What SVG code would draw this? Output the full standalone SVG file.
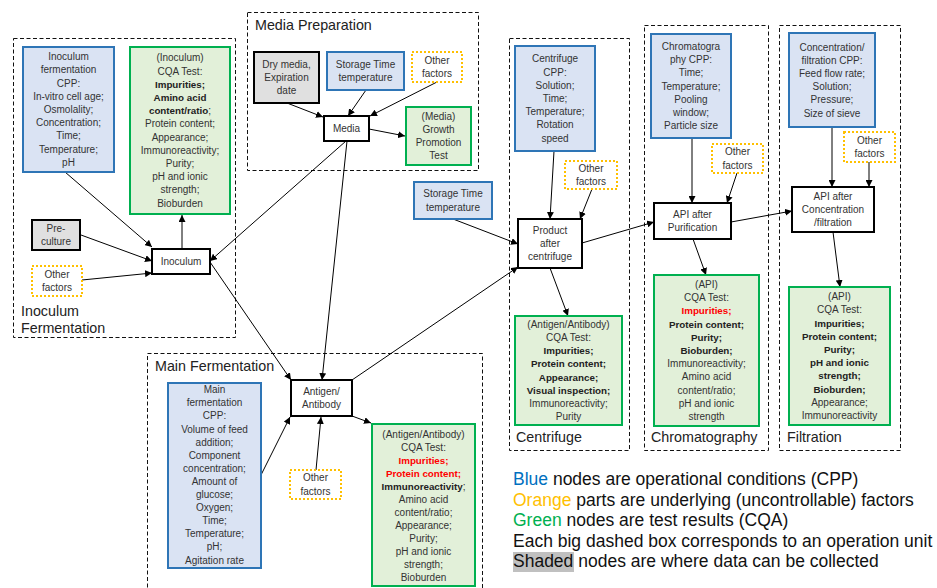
<svg xmlns="http://www.w3.org/2000/svg" width="937" height="588" viewBox="0 0 937 588">
<defs>
<marker id="arr" viewBox="0 0 10 10" refX="10" refY="5" markerWidth="7" markerHeight="7" markerUnits="userSpaceOnUse" orient="auto">
<path d="M0,0 L10,5 L0,10 z" fill="#000"/>
</marker>
<style>
text{font-family:"Liberation Sans",Arial,sans-serif;fill:#333;}
.n{font-size:10px;text-anchor:middle;}
.b{font-weight:bold;fill:#222;font-size:9.8px;}
.r{font-weight:bold;fill:#ff0000;font-size:9.8px;}
.sec{font-size:14.3px;fill:#222;}
.leg{font-size:17.5px;fill:#111;}
.unit{fill:none;stroke:#111;stroke-width:1;stroke-dasharray:4 2.5;}
.cpp{fill:#dae3f3;stroke:#2e75b6;stroke-width:2;}
.cqa{fill:#e2f0d9;stroke:#00b050;stroke-width:2;}
.oth{fill:#fff;stroke:#ffc000;stroke-width:2;stroke-dasharray:2 2;}
.gry{fill:#e0e0e0;stroke:#000;stroke-width:2;}
.pn{fill:#fff;stroke:#000;stroke-width:2;}
.e{fill:none;stroke:#000;stroke-width:1;marker-end:url(#arr);}
</style>
</defs>
<rect width="937" height="588" fill="#fff"/>

<g id="units">
<rect class="unit" x="13.5" y="38.5" width="222" height="299"/>
<text class="sec" x="21" y="316">Inoculum</text>
<text class="sec" x="21" y="333">Fermentation</text>
<rect class="unit" x="247.5" y="12.5" width="231" height="158"/>
<text class="sec" x="255" y="30">Media Preparation</text>
<rect class="unit" x="147.5" y="353.5" width="335" height="250"/>
<text class="sec" x="155" y="371">Main Fermentation</text>
<rect class="unit" x="509.5" y="38.5" width="120" height="412"/>
<text class="sec" x="516" y="442">Centrifuge</text>
<rect class="unit" x="644.5" y="25.5" width="124" height="425"/>
<text class="sec" x="651" y="442">Chromatography</text>
<rect class="unit" x="779.5" y="25.5" width="121" height="425"/>
<text class="sec" x="787" y="442">Filtration</text>
</g>

<g id="edges">
<line class="e" x1="65" y1="172" x2="152" y2="247"/>
<line class="e" x1="81" y1="235" x2="152" y2="261"/>
<line class="e" x1="82" y1="280" x2="152" y2="273"/>
<line class="e" x1="182" y1="249" x2="182" y2="215"/>
<line class="e" x1="346" y1="141" x2="210" y2="261"/>
<line class="e" x1="210" y1="262" x2="291" y2="380"/>
<line class="e" x1="347" y1="141" x2="322" y2="380"/>
<line class="e" x1="352" y1="380" x2="518" y2="267"/>
<line class="e" x1="453" y1="219" x2="518" y2="244"/>
<line class="e" x1="287" y1="103" x2="323" y2="117"/>
<line class="e" x1="366" y1="90" x2="348" y2="116"/>
<line class="e" x1="437" y1="82" x2="370" y2="116"/>
<line class="e" x1="369" y1="129" x2="405" y2="136"/>
<line class="e" x1="261" y1="475" x2="290" y2="417"/>
<line class="e" x1="316" y1="470" x2="321" y2="417"/>
<line class="e" x1="352" y1="416" x2="371" y2="423"/>
<line class="e" x1="554" y1="151" x2="550" y2="219"/>
<line class="e" x1="592" y1="189" x2="580" y2="219"/>
<line class="e" x1="550" y1="268" x2="568" y2="316"/>
<line class="e" x1="582" y1="243" x2="654" y2="222"/>
<line class="e" x1="692" y1="138" x2="692" y2="203"/>
<line class="e" x1="737" y1="173" x2="727" y2="203"/>
<line class="e" x1="693" y1="239" x2="706" y2="275"/>
<line class="e" x1="731" y1="222" x2="792" y2="211"/>
<line class="e" x1="832" y1="127" x2="832" y2="187"/>
<line class="e" x1="869" y1="162" x2="869" y2="187"/>
<line class="e" x1="833" y1="232" x2="840" y2="287"/>
</g>

<g id="inoc-cpp">
<rect class="cpp" x="23" y="47" width="91" height="125"/>
<text class="n" y="60.2"><tspan x="68.5">Inoculum</tspan><tspan x="68.5" dy="13.2">fermentation</tspan><tspan x="68.5" dy="13.2">CPP:</tspan><tspan x="68.5" dy="13.2">In-vitro cell age;</tspan><tspan x="68.5" dy="13.2">Osmolality;</tspan><tspan x="68.5" dy="13.2">Concentration;</tspan><tspan x="68.5" dy="13.2">Time;</tspan><tspan x="68.5" dy="13.2">Temperature;</tspan><tspan x="68.5" dy="13.2">pH</tspan></text>
</g>
<g id="inoc-cqa">
<rect class="cqa" x="130" y="47" width="100" height="167"/>
<text class="n" y="61.4"><tspan x="180">(Inoculum)</tspan><tspan x="180" dy="13.2">CQA Test:</tspan><tspan x="180" dy="13.2" class="b">Impurities;</tspan><tspan x="180" dy="13.2" class="b">Amino acid</tspan><tspan x="180" dy="13.2"><tspan class="b">content/ratio</tspan>;</tspan><tspan x="180" dy="13.2">Protein content;</tspan><tspan x="180" dy="13.2">Appearance;</tspan><tspan x="180" dy="13.2">Immunoreactivity;</tspan><tspan x="180" dy="13.2">Purity;</tspan><tspan x="180" dy="13.2">pH and ionic</tspan><tspan x="180" dy="13.2">strength;</tspan><tspan x="180" dy="13.2">Bioburden</tspan></text>
</g>
<g id="preculture">
<rect class="gry" x="32" y="220" width="48" height="30"/>
<text class="n" y="231.9"><tspan x="56">Pre-</tspan><tspan x="56" dy="13.2">culture</tspan></text>
</g>
<g id="inoc-other">
<rect class="oth" x="32" y="266" width="50" height="30"/>
<text class="n" y="277.9"><tspan x="57">Other</tspan><tspan x="57" dy="13.2">factors</tspan></text>
</g>
<g id="inoculum">
<rect class="pn" x="152" y="249" width="58" height="25"/>
<text class="n" x="181" y="265">Inoculum</text>
</g>

<g id="drymedia">
<rect class="gry" x="254" y="52" width="65" height="51"/>
<text class="n" y="67.8"><tspan x="286.5">Dry media,</tspan><tspan x="286.5" dy="13.2">Expiration</tspan><tspan x="286.5" dy="13.2">date</tspan></text>
</g>
<g id="media-storage">
<rect class="cpp" x="327" y="52" width="77" height="38"/>
<text class="n" y="67.9"><tspan x="365.5">Storage Time</tspan><tspan x="365.5" dy="13.2">temperature</tspan></text>
</g>
<g id="media-other">
<rect class="oth" x="412" y="52" width="50" height="30"/>
<text class="n" y="63.9"><tspan x="437">Other</tspan><tspan x="437" dy="13.2">factors</tspan></text>
</g>
<g id="media">
<rect class="pn" x="324" y="116" width="45" height="25"/>
<text class="n" x="346.5" y="132">Media</text>
</g>
<g id="media-cqa">
<rect class="cqa" x="406" y="107" width="65" height="58"/>
<text class="n" y="119.7"><tspan x="438.5">(Media)</tspan><tspan x="438.5" dy="13.2">Growth</tspan><tspan x="438.5" dy="13.2">Promotion</tspan><tspan x="438.5" dy="13.2">Test</tspan></text>
</g>

<g id="storage2">
<rect class="cpp" x="414" y="182" width="78" height="37"/>
<text class="n" y="197.4"><tspan x="453">Storage Time</tspan><tspan x="453" dy="13.2">temperature</tspan></text>
</g>

<g id="main-cpp">
<rect class="cpp" x="168" y="383" width="93" height="185"/>
<text class="n" y="393.2"><tspan x="214.5">Main</tspan><tspan x="214.5" dy="13.1">fermentation</tspan><tspan x="214.5" dy="13.1">CPP:</tspan><tspan x="214.5" dy="13.1">Volume of feed</tspan><tspan x="214.5" dy="13.1">addition;</tspan><tspan x="214.5" dy="13.1">Component</tspan><tspan x="214.5" dy="13.1">concentration;</tspan><tspan x="214.5" dy="13.1">Amount of</tspan><tspan x="214.5" dy="13.1">glucose;</tspan><tspan x="214.5" dy="13.1">Oxygen;</tspan><tspan x="214.5" dy="13.1">Time;</tspan><tspan x="214.5" dy="13.1">Temperature;</tspan><tspan x="214.5" dy="13.1">pH;</tspan><tspan x="214.5" dy="13.1">Agitation rate</tspan></text>
</g>
<g id="antigen">
<rect class="pn" x="291" y="380" width="61" height="36"/>
<text class="n" y="394.9"><tspan x="321.5">Antigen/</tspan><tspan x="321.5" dy="13.2">Antibody</tspan></text>
</g>
<g id="main-other">
<rect class="oth" x="290" y="470" width="51" height="29"/>
<text class="n" y="481.4"><tspan x="315.5">Other</tspan><tspan x="315.5" dy="13.2">factors</tspan></text>
</g>
<g id="main-cqa">
<rect class="cqa" x="372" y="424" width="103" height="162"/>
<text class="n" y="437.5"><tspan x="423.5">(Antigen/Antibody)</tspan><tspan x="423.5" dy="13.05">CQA Test:</tspan><tspan x="423.5" dy="13.05" class="r">Impurities;</tspan><tspan x="423.5" dy="13.05" class="r">Protein content;</tspan><tspan x="423.5" dy="13.05"><tspan class="b">Immunoreactivity</tspan>;</tspan><tspan x="423.5" dy="13.05">Amino acid</tspan><tspan x="423.5" dy="13.05">content/ratio;</tspan><tspan x="423.5" dy="13.05">Appearance;</tspan><tspan x="423.5" dy="13.05">Purity;</tspan><tspan x="423.5" dy="13.05">pH and ionic</tspan><tspan x="423.5" dy="13.05">strength;</tspan><tspan x="423.5" dy="13.05">Bioburden</tspan></text>
</g>

<g id="cent-cpp">
<rect class="cpp" x="515" y="46" width="80" height="105"/>
<text class="n" y="62.4"><tspan x="555">Centrifuge</tspan><tspan x="555" dy="13.2">CPP:</tspan><tspan x="555" dy="13.2">Solution;</tspan><tspan x="555" dy="13.2">Time;</tspan><tspan x="555" dy="13.2">Temperature;</tspan><tspan x="555" dy="13.2">Rotation</tspan><tspan x="555" dy="13.2">speed</tspan></text>
</g>
<g id="cent-other">
<rect class="oth" x="565" y="161" width="52" height="28"/>
<text class="n" y="171.9"><tspan x="591">Other</tspan><tspan x="591" dy="13.2">factors</tspan></text>
</g>
<g id="product">
<rect class="pn" x="518" y="219" width="64" height="49"/>
<text class="n" y="233.8"><tspan x="550">Product</tspan><tspan x="550" dy="13.2">after</tspan><tspan x="550" dy="13.2">centrifuge</tspan></text>
</g>
<g id="cent-cqa">
<rect class="cqa" x="515" y="316" width="107" height="109"/>
<text class="n" y="327.8"><tspan x="568.5">(Antigen/Antibody)</tspan><tspan x="568.5" dy="13.2">CQA Test:</tspan><tspan x="568.5" dy="13.2" class="b">Impurities;</tspan><tspan x="568.5" dy="13.2" class="b">Protein content;</tspan><tspan x="568.5" dy="13.2" class="b">Appearance;</tspan><tspan x="568.5" dy="13.2" class="b">Visual inspection;</tspan><tspan x="568.5" dy="13.2">Immunoreactivity;</tspan><tspan x="568.5" dy="13.2">Purity</tspan></text>
</g>

<g id="chrom-cpp">
<rect class="cpp" x="651" y="34" width="80" height="104"/>
<text class="n" y="49.9"><tspan x="691">Chromatogra</tspan><tspan x="691" dy="13.2">phy CPP:</tspan><tspan x="691" dy="13.2">Time;</tspan><tspan x="691" dy="13.2">Temperature;</tspan><tspan x="691" dy="13.2">Pooling</tspan><tspan x="691" dy="13.2">window;</tspan><tspan x="691" dy="13.2">Particle size</tspan></text>
</g>
<g id="chrom-other">
<rect class="oth" x="712" y="144" width="51" height="29"/>
<text class="n" y="155.4"><tspan x="737.5">Other</tspan><tspan x="737.5" dy="13.2">factors</tspan></text>
</g>
<g id="api-purif">
<rect class="pn" x="654" y="203" width="77" height="36"/>
<text class="n" y="217.9"><tspan x="692.5">API after</tspan><tspan x="692.5" dy="13.2">Purification</tspan></text>
</g>
<g id="chrom-cqa">
<rect class="cqa" x="654" y="275" width="105" height="151"/>
<text class="n" y="288"><tspan x="706.5">(API)</tspan><tspan x="706.5" dy="13.2">CQA Test:</tspan><tspan x="706.5" dy="13.2" class="r">Impurities;</tspan><tspan x="706.5" dy="13.2" class="b">Protein content;</tspan><tspan x="706.5" dy="13.2" class="b">Purity;</tspan><tspan x="706.5" dy="13.2" class="b">Bioburden;</tspan><tspan x="706.5" dy="13.2">Immunoreactivity;</tspan><tspan x="706.5" dy="13.2">Amino acid</tspan><tspan x="706.5" dy="13.2">content/ratio;</tspan><tspan x="706.5" dy="13.2">pH and ionic</tspan><tspan x="706.5" dy="13.2">strength</tspan></text>
</g>

<g id="filt-cpp">
<rect class="cpp" x="789" y="33" width="86" height="94"/>
<text class="n" y="50.5"><tspan x="832">Concentration/</tspan><tspan x="832" dy="13.2">filtration  CPP:</tspan><tspan x="832" dy="13.2">Feed flow rate;</tspan><tspan x="832" dy="13.2">Solution;</tspan><tspan x="832" dy="13.2">Pressure;</tspan><tspan x="832" dy="13.2">Size of sieve</tspan></text>
</g>
<g id="filt-other">
<rect class="oth" x="844" y="132" width="51" height="30"/>
<text class="n" y="143.9"><tspan x="869.5">Other</tspan><tspan x="869.5" dy="13.2">factors</tspan></text>
</g>
<g id="api-conc">
<rect class="pn" x="792" y="187" width="82" height="45"/>
<text class="n" y="199.8"><tspan x="833">API after</tspan><tspan x="833" dy="13.2">Concentration</tspan><tspan x="833" dy="13.2">/filtration</tspan></text>
</g>
<g id="filt-cqa">
<rect class="cqa" x="789" y="287" width="101" height="138"/>
<text class="n" y="300.1"><tspan x="839.5">(API)</tspan><tspan x="839.5" dy="13.2">CQA Test:</tspan><tspan x="839.5" dy="13.2" class="b">Impurities;</tspan><tspan x="839.5" dy="13.2" class="b">Protein content;</tspan><tspan x="839.5" dy="13.2" class="b">Purity;</tspan><tspan x="839.5" dy="13.2" class="b">pH and ionic</tspan><tspan x="839.5" dy="13.2" class="b">strength;</tspan><tspan x="839.5" dy="13.2" class="b">Bioburden;</tspan><tspan x="839.5" dy="13.2">Appearance;</tspan><tspan x="839.5" dy="13.2">Immunoreactivity</tspan></text>
</g>

<g id="legend">
<rect x="513" y="552" width="61" height="20" fill="#c0c0c0"/>
<text class="leg" x="513" y="485"><tspan fill="#0070c0">Blue</tspan> nodes are operational conditions (CPP)</text>
<text class="leg" x="513" y="505.5"><tspan fill="#ffc000">Orange</tspan> parts are underlying (uncontrollable) factors</text>
<text class="leg" x="513" y="526"><tspan fill="#00b050">Green</tspan> nodes are test results (CQA)</text>
<text class="leg" x="513" y="546.5">Each big dashed box corresponds to an operation unit</text>
<text class="leg" x="513" y="567">Shaded nodes are where data can be collected</text>
</g>
</svg>
